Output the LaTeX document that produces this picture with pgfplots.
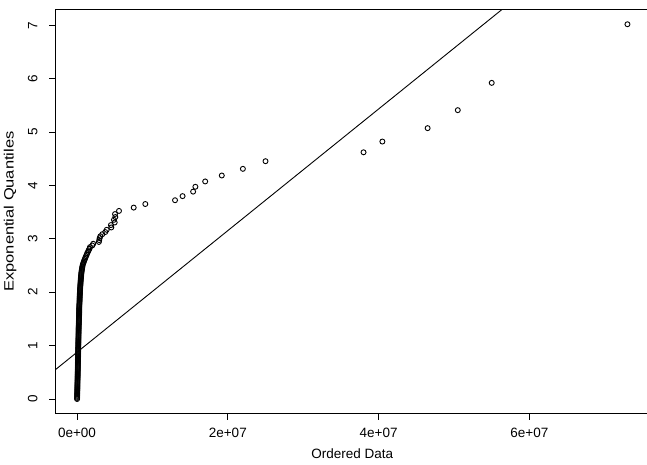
\documentclass[border=0pt]{standalone}
\usepackage{fontspec}
\setmainfont{Liberation Sans}
\usepackage{pgfplots}
\usepackage{pgfplotstable}
\pgfplotsset{compat=1.18}

% Upper tail: individually visible order statistics (data, exponential quantile)
\pgfplotstableread{
x y
73000000 7.019
55000000 5.921
50500000 5.410
46500000 5.073
40500000 4.822
38000000 4.621
25000000 4.454
22000000 4.311
19200000 4.186
17000000 4.075
15700000 3.975
15400000 3.884
14000000 3.800
13000000 3.723
9060000 3.652
7520000 3.585
5570000 3.523
5040000 3.464
5080000 3.408
4900000 3.356
5000000 3.306
4500000 3.258
4550000 3.213
3940000 3.169
3750000 3.127
3360000 3.087
3100000 3.049
3000000 3.012
2950000 2.976
2900000 2.942
2150000 2.908
2030000 2.876
1720000 2.845
1650000 2.815
1550000 2.785
1450000 2.757
1350000 2.729
1280000 2.702
1200000 2.675
1120000 2.650
1050000 2.625
980000 2.600
920000 2.577
860000 2.553
800000 2.531
750000 2.508
}\tailtable

% Bulk of the sample, packed close to zero
\pgfplotstableread{
x y
10000 0.00
14000 0.02
18000 0.04
21000 0.06
24000 0.08
27000 0.10
30000 0.12
33000 0.14
37000 0.16
41000 0.18
45000 0.20
48000 0.22
52000 0.24
55000 0.26
58000 0.28
62000 0.30
65000 0.32
68000 0.34
72000 0.36
76000 0.38
80000 0.40
83000 0.42
86000 0.44
89000 0.46
92000 0.48
95000 0.50
98000 0.52
101000 0.54
104000 0.56
107000 0.58
110000 0.60
113000 0.62
116000 0.64
119000 0.66
122000 0.68
125000 0.70
127000 0.72
130000 0.74
133000 0.76
136000 0.78
140000 0.80
142000 0.82
145000 0.84
148000 0.86
150000 0.88
153000 0.90
156000 0.92
159000 0.94
162000 0.96
165000 0.98
170000 1.00
172000 1.02
175000 1.04
178000 1.06
181000 1.08
184000 1.10
187000 1.12
190000 1.14
194000 1.16
197000 1.18
200000 1.20
203000 1.22
206000 1.24
209000 1.26
212000 1.28
215000 1.30
218000 1.32
222000 1.34
226000 1.36
233000 1.38
240000 1.40
244000 1.42
248000 1.44
252000 1.46
256000 1.48
260000 1.50
264000 1.52
268000 1.54
272000 1.56
276000 1.58
280000 1.60
283000 1.62
286000 1.64
289000 1.66
292000 1.68
295000 1.70
298000 1.72
302000 1.74
306000 1.76
318000 1.78
330000 1.80
335000 1.82
340000 1.84
345000 1.86
350000 1.88
355000 1.90
361000 1.92
367000 1.94
373000 1.96
380000 1.98
390000 2.00
397000 2.02
404000 2.04
411000 2.06
419000 2.08
430000 2.10
440000 2.12
450000 2.14
460000 2.16
470000 2.18
480000 2.20
490000 2.22
500000 2.24
510000 2.26
525000 2.28
540000 2.30
553000 2.32
566000 2.34
580000 2.36
597000 2.38
620000 2.40
640000 2.42
665000 2.44
690000 2.46
715000 2.48
}\bulktable

\begin{document}
\fontsize{13.5bp}{16bp}\selectfont
\begin{tikzpicture}
\begin{axis}[
  at={(55bp,51.3bp)}, anchor=south west,
  scale only axis, width=594.3bp, height=404.4bp,
  xmin=-2.918e6, xmax=7.59e7, ymin=-0.275, ymax=7.299,
  axis line style={line width=0.9bp},
  tick align=outside, xtick pos=lower, ytick pos=left,
  major tick length=6bp,
  tick style={line width=0.9bp, black},
  xtick={0,20000000,40000000,60000000},
  xticklabels={0e+00,2e+07,4e+07,6e+07},
  ytick={0,1,2,3,4,5,6,7},
  yticklabels={0,1,2,3,4,5,6,7},
  scaled x ticks=false,
  every tick label/.append style={font=\fontsize{13.5bp}{16bp}\selectfont},
  xticklabel style={anchor=north, inner sep=0pt},
  xticklabel shift=8.6bp,
  yticklabel style={rotate=90, anchor=base, inner sep=0pt},
  yticklabel shift=11.7bp,
  xlabel={Ordered Data},
  ylabel={Exponential Quantiles},
  xlabel style={at={(axis description cs:0.5,-0.1120)}, anchor=base, inner sep=0pt, font=\fontsize{13.5bp}{16bp}\selectfont},
  ylabel style={at={(axis description cs:-0.0698,0.5)}, anchor=base, inner sep=0pt, xscale=1.22, font=\fontsize{13.5bp}{16bp}\selectfont},
]
% fitted straight line through the quantile pairs
\addplot[black, line width=0.9bp] coordinates {(-3000000,0.534) (80000000,9.988)};
\addplot[only marks, mark=o, mark size=2.5bp, mark options={line width=0.9bp, black}] table[x=x,y=y] {\bulktable};
\addplot[only marks, mark=o, mark size=2.5bp, mark options={line width=0.9bp, black}] table[x=x,y=y] {\tailtable};
\end{axis}
\pgfresetboundingbox
\useasboundingbox (0,0) rectangle (647bp,465bp);
\end{tikzpicture}
\end{document}
